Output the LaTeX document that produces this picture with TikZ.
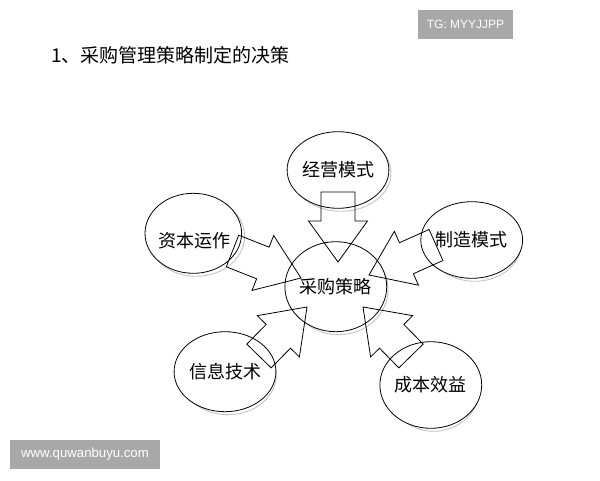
\documentclass[tikz,border=0pt]{standalone}
\usepackage{fontspec}
\setmainfont{Noto Sans CJK SC}
\newfontfamily\wmfont{Liberation Sans}
\usetikzlibrary{shapes.geometric,calc}
\definecolor{wmgray}{HTML}{A8A8A8}
\definecolor{shadowgray}{HTML}{C4C4C4}
\tikzset{
  bubble/.style={ellipse, draw=black, line width=0.8pt, fill=white, inner sep=0pt, outer sep=0pt,
     font=\fontsize{18}{20}\selectfont},
  bubbleshadow/.style={draw=shadowgray, line width=0.9pt},
  blockline/.style={draw=black, line width=0.8pt, line join=miter},
  wmbox/.style={fill=wmgray, text=white, inner sep=0pt, font=\wmfont},
  titlefont/.style={font=\fontsize{19}{24}\selectfont}
}
% #1 tail coordinate, #2 tip coordinate
\newcommand\blockarrow[2]{%
  \coordinate (#1-h) at ($(#2)!41pt!(#1)$);
  \draw[blockline]
    ($(#1)!17pt!90:(#2)$) --
    ($(#1-h)!17pt!90:(#2)$) --
    ($(#1-h)!29.5pt!90:(#2)$) --
    (#2) --
    ($(#1-h)!29.5pt!-90:(#2)$) --
    ($(#1-h)!17pt!-90:(#2)$) --
    ($(#1)!17pt!-90:(#2)$) -- cycle;
}
% #1 name, #2 center, #3 rx, #4 ry
\newcommand\bubbleshade[4]{%
  \draw[bubbleshadow] ($#2+(3,3)$) ellipse [x radius=#3pt, y radius=#4pt];
}
\begin{document}
\begin{tikzpicture}[x=1pt,y=-1pt]
\useasboundingbox (0,0) rectangle (600,480);
\fill[white] (0,0) rectangle (600,480);

% title and watermarks
\node[titlefont, anchor=west, inner sep=0pt] (title) at (51,55) {1、采购管理策略制定的决策};
\node[wmbox, minimum width=95pt, minimum height=29pt, font=\wmfont\fontsize{12}{14}\selectfont] (tg) at (465.5,24.5) {TG: MYYJJPP};
\node[wmbox, minimum width=150pt, minimum height=29pt, font=\wmfont\fontsize{13.2}{16}\selectfont] (www) at (85,454.5) {www.quwanbuyu.com};

% shadows
\bubbleshade{jy}{(338,170)}{50}{38.3}
\bubbleshade{zb}{(193.3,233.3)}{48.3}{40}
\bubbleshade{zz}{(471.7,240)}{46.7}{38.3}
\bubbleshade{cg}{(335.8,286.7)}{49.2}{45}
\bubbleshade{xx}{(225,371.7)}{48.3}{40}
\bubbleshade{cb}{(430.8,385)}{45.8}{43.3}

% bubbles
\node[bubble, minimum width=100pt, minimum height=76.6pt] (jy) at (338,170) {经营模式};
\node[bubble, minimum width=96.6pt, minimum height=80pt,
      label={[font=\fontsize{18}{20}\selectfont, yshift=-7pt, xshift=1pt]center:资本运作}] (zb) at (193.3,233.3) {};
\node[bubble, minimum width=93.4pt, minimum height=76.6pt] (zz) at (471.7,240) {制造模式};
\node[bubble, minimum width=98.4pt, minimum height=90pt] (cg) at (335.8,286.7) {采购策略};
\node[bubble, minimum width=96.6pt, minimum height=80pt] (xx) at (225,371.7) {信息技术};
\node[bubble, minimum width=91.6pt, minimum height=86.6pt] (cb) at (430.8,385) {成本效益};

% arrow end points
\coordinate (ta) at (338,192);   \coordinate (pa) at (338,262);
\coordinate (tb) at (232.5,251); \coordinate (pb) at (301,278);
\coordinate (tc) at (436,245);   \coordinate (pc) at (369,275);
\coordinate (td) at (259,356);   \coordinate (pd) at (307,307);
\coordinate (te) at (411,356);   \coordinate (pe) at (363,307);

\blockarrow{ta}{pa}
\blockarrow{tb}{pb}
\blockarrow{tc}{pc}
\blockarrow{td}{pd}
\blockarrow{te}{pe}
\end{tikzpicture}
\end{document}
